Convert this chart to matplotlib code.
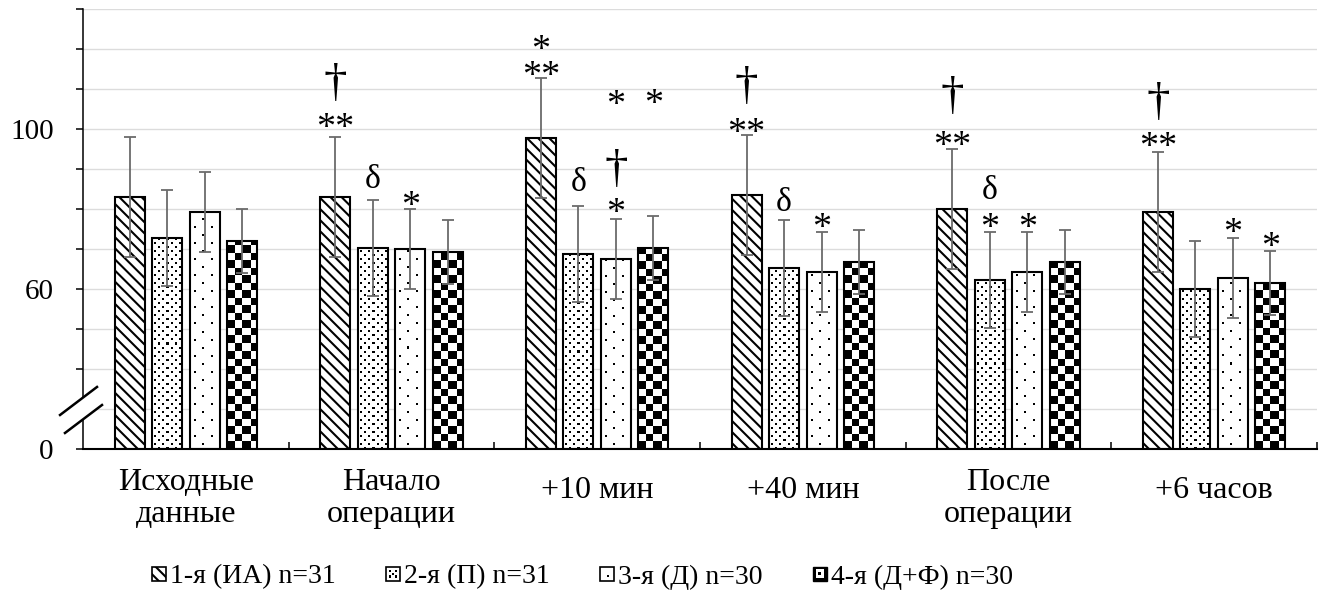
import numpy as np
import matplotlib
matplotlib.use("Agg")
import matplotlib.pyplot as plt
from matplotlib.patches import Rectangle, Polygon
from matplotlib.lines import Line2D
from matplotlib.legend_handler import HandlerBase
from matplotlib.textpath import TextPath, TextToPath
from matplotlib.font_manager import FontProperties

# ---------------- data ----------------
categories = ["Исходные\nданные", "Начало\nоперации", "+10 мин", "+40 мин",
              "После\nоперации", "+6 часов"]
series_names = ["1-я (ИА) n=31", "2-я (П) n=31", "3-я (Д) n=30", "4-я (Д+Ф) n=30"]

s1 = [83.1, 83.1, 97.8, 83.5, 80.0, 79.2]
s2 = [72.8, 70.3, 68.8, 65.3, 62.3, 60.1]
s3 = [79.3, 70.1, 67.4, 64.3, 64.3, 62.8]
s4 = [72.1, 69.3, 70.2, 66.8, 66.8, 61.6]
s1_err = [15, 15, 15, 15, 15, 15]
s2_err = [12, 12, 12, 12, 12, 12]
s3_err = [10, 10, 10, 10, 10, 10]
s4_err = [8, 8, 8, 8, 8, 8]

y_ticks = [20, 30, 40, 50, 60, 70, 80, 90, 100, 110, 120, 130]
y_tick_labels = ["0", "", "", "", "60", "", "", "", "100", "", "", ""]

# significance marks: (category, series, symbol, offset of ink centre above error cap, px)
marks = [
    (1, 0, "**", 17), (1, 0, "†", 54), (1, 1, "δ", 23), (1, 2, "*", 11),
    (2, 1, "δ", 26), (2, 2, "*", 14),
    (2, 2, "†", 51), (2, 2, "*", 122), (2, 3, "*", 120),
    (3, 0, "**", 10), (3, 0, "†", 50), (3, 1, "δ", 20), (3, 2, "*", 12),
    (4, 0, "**", 11), (4, 0, "†", 54), (4, 1, "*", 12), (4, 1, "δ", 44), (4, 2, "*", 12),
    (5, 0, "**", 13), (5, 0, "†", 51), (5, 2, "*", 13), (5, 3, "*", 12),
]
# two-line asterisk stack: (category, series, text, offset of last line, line gap px)
stacked_marks = [(2, 0, "*\n**", 10, 26)]

values = [s1, s2, s3, s4]
errors = [s1_err, s2_err, s3_err, s4_err]

# ---------------- style ----------------
FONT = "Liberation Serif"
plt.rcParams["font.family"] = [FONT, "DejaVu Serif"]
plt.rcParams["hatch.linewidth"] = 1.5

W, H = 1327, 594
fig = plt.figure(figsize=(W / 100, H / 100), dpi=100)
ax = fig.add_axes([83 / W, 1 - 449 / H, 1234 / W, 440 / H])
ax.set_xlim(-0.5, 5.5)
ax.set_ylim(20, 130)

for s in ("top", "right"):
    ax.spines[s].set_visible(False)
ax.spines["left"].set_linewidth(1.1)
ax.spines["bottom"].set_linewidth(1.5)

ax.set_yticks(y_ticks)
ax.set_yticklabels(y_tick_labels, fontsize=21)
ax.tick_params(axis="y", which="major", direction="out", length=5, width=1.1, pad=16)
ax.yaxis.grid(True, color="#dcdcdc", linewidth=1.0)
ax.set_axisbelow(True)

ax.set_xticks([])
ax.set_xticks(np.arange(0.5, 6, 1), minor=True)
ax.tick_params(axis="x", which="minor", direction="in", length=5, width=1.1)
ax.tick_params(axis="x", which="major", length=0)

bar_w = 0.146
step = 0.182
xs = np.arange(len(categories))
kinds = ["diag", "dense", "sparse", "checker"]


def pattern(kind, w, h):
    yy, xx = np.mgrid[0:h, 0:w]
    if kind == "dense":
        row = yy // 4
        dot = (yy % 4 < 2) & (((xx + 2 + 4 * (row % 2)) % 8) < 2)
    elif kind == "sparse":
        row = yy // 8
        dot = ((yy + 4) % 8 < 2) & (((xx + 4 + 8 * (row % 2)) % 16) < 2)
    else:
        c = w / 4.0
        dot = ((np.floor(xx / c) + np.floor(yy / c)) % 2) == 0
    return np.where(dot, 0.0, 1.0)


for i in range(4):
    xpos = xs + (i - 1.5) * step
    vals = values[i]
    if kinds[i] == "diag":
        ax.bar(xpos, [v - 20 for v in vals], bottom=20, width=bar_w, facecolor="white",
               edgecolor="black", linewidth=1.5, hatch="\\\\\\", zorder=2)
    else:
        for x, v in zip(xpos, vals):
            p0 = ax.transData.transform((x - bar_w / 2, 20))
            p1 = ax.transData.transform((x + bar_w / 2, v))
            wpx = max(int(round(p1[0] - p0[0])), 1)
            hpx = max(int(round(p1[1] - p0[1])), 1)
            ax.imshow(pattern(kinds[i], wpx, hpx), extent=(x - bar_w / 2, x + bar_w / 2, 20, v),
                      origin="lower", cmap="gray", vmin=0, vmax=1,
                      interpolation="nearest", aspect="auto", zorder=2.2)
        ax.bar(xpos, [v - 20 for v in vals], bottom=20, width=bar_w, facecolor="none",
               edgecolor="black", linewidth=1.5, zorder=2.4)
    ax.errorbar(xpos, vals, yerr=errors[i], fmt="none", ecolor="#6b6b6b",
                elinewidth=1.3, capsize=4.3, capthick=1.3, zorder=3)

ax.set_xlim(-0.5, 5.5)
ax.set_ylim(20, 130)

# ---------------- significance marks ----------------
target_px = {"*": 14, "†": 38, "δ": 24}
fp = FontProperties(family=FONT)


def ink(sym, size):
    return TextPath((0, 0), sym, size=size, prop=fp).get_extents()


sizes = {}
for k, t in target_px.items():
    e = ink(k, 100)
    sizes[k] = 100 * t * 0.72 / e.height

for ci, si, sym, off in marks:
    x = xs[ci] + (si - 1.5) * step
    cap = values[si][ci] + errors[si][ci]
    size = sizes[sym[0]]
    e = ink(sym, size)
    dy = off * 0.72 - (e.y0 + e.y1) / 2
    ax.annotate(sym, xy=(x, cap), xytext=(0, dy), textcoords="offset points",
                ha="center", va="baseline", fontsize=size, zorder=5,
                annotation_clip=False)

t2p = TextToPath()
for ci, si, txt, off, gap in stacked_marks:
    x = xs[ci] + (si - 1.5) * step
    cap = values[si][ci] + errors[si][ci]
    size = sizes["*"]
    last = txt.split("\n")[-1]
    e = ink(last, size)
    dy = off * 0.72 - (e.y0 + e.y1) / 2
    fps = FontProperties(family=FONT, size=size)
    _, lh, ld = t2p.get_text_width_height_descent("lp", fps, ismath=False)
    ls = (gap * 0.72 - ld) / (lh - ld)
    ax.annotate(txt, xy=(x, cap), xytext=(0, dy), textcoords="offset points",
                ha="center", va="baseline", fontsize=size, linespacing=ls,
                zorder=5, annotation_clip=False)

# ---------------- category labels (baseline of last line) ----------------
for i, lab in enumerate(categories):
    off = -73 if "\n" in lab else -49
    ax.annotate(lab, xy=(i, 0), xycoords=("data", "axes fraction"),
                xytext=(0, off * 0.72), textcoords="offset points",
                ha="center", va="baseline", fontsize=23, linespacing=1.15,
                annotation_clip=False)

# ---------------- axis break ----------------
l1 = [(-0.0186, 0.0773), (0.01135, 0.141)]
l2 = [(-0.0146, 0.0364), (0.0154, 0.100)]
ax.add_patch(Polygon([l1[0], l1[1], l2[1], l2[0]], closed=True, facecolor="white",
                     edgecolor="none", transform=ax.transAxes, clip_on=False, zorder=10))
for l in (l1, l2):
    ax.add_line(Line2D([l[0][0], l[1][0]], [l[0][1], l[1][1]], color="black", lw=1.8,
                       transform=ax.transAxes, clip_on=False, zorder=11))


# ---------------- legend ----------------
class IconHandler(HandlerBase):
    def __init__(self, kind):
        super().__init__()
        self.kind = kind

    def create_artists(self, legend, orig_handle, xdescent, ydescent, width, height,
                       fontsize, trans):
        s = height
        x0 = -xdescent + (width - s) / 2
        y0 = -ydescent
        arts = []
        k = self.kind
        if k == "diag":
            arts.append(Rectangle((x0, y0), s, s, facecolor="white", edgecolor="black",
                                  hatch="\\\\\\", lw=1.2))
        elif k in ("dense", "sparse"):
            arts.append(Rectangle((x0, y0), s, s, facecolor="white", edgecolor="black", lw=1.2))
            pts = ([(0.3, 0.3), (0.7, 0.3), (0.3, 0.7), (0.7, 0.7), (0.5, 0.5)]
                   if k == "dense" else [(0.55, 0.35)])
            d = 0.15 * s
            for (fx, fy) in pts:
                arts.append(Rectangle((x0 + fx * s - d / 2, y0 + fy * s - d / 2), d, d,
                                      facecolor="black", edgecolor="none"))
        else:
            arts.append(Rectangle((x0, y0), s, s, facecolor="black", edgecolor="black", lw=1.0))
            a = 0.2 * s
            arts.append(Rectangle((x0 + a, y0 + a), s - 2 * a, s - 2 * a,
                                  facecolor="white", edgecolor="none"))
            b = 0.38 * s
            arts.append(Rectangle((x0 + b, y0 + b), s - 2 * b, s - 2 * b,
                                  facecolor="black", edgecolor="none"))
        for a_ in arts:
            a_.set_transform(trans)
        return arts


handles = [Rectangle((0, 0), 1, 1) for _ in series_names]
hmap = {h: IconHandler(k) for h, k in zip(handles, kinds)}
fig.legend(handles, series_names, handler_map=hmap, loc="center",
           bbox_to_anchor=(583 / W, 1 - 577 / H), ncol=4, frameon=False,
           fontsize=20, handlelength=0.4, handleheight=0.4, handletextpad=0.2,
           columnspacing=1.86, borderaxespad=0, borderpad=0)

fig.savefig("out.png", dpi=100)
